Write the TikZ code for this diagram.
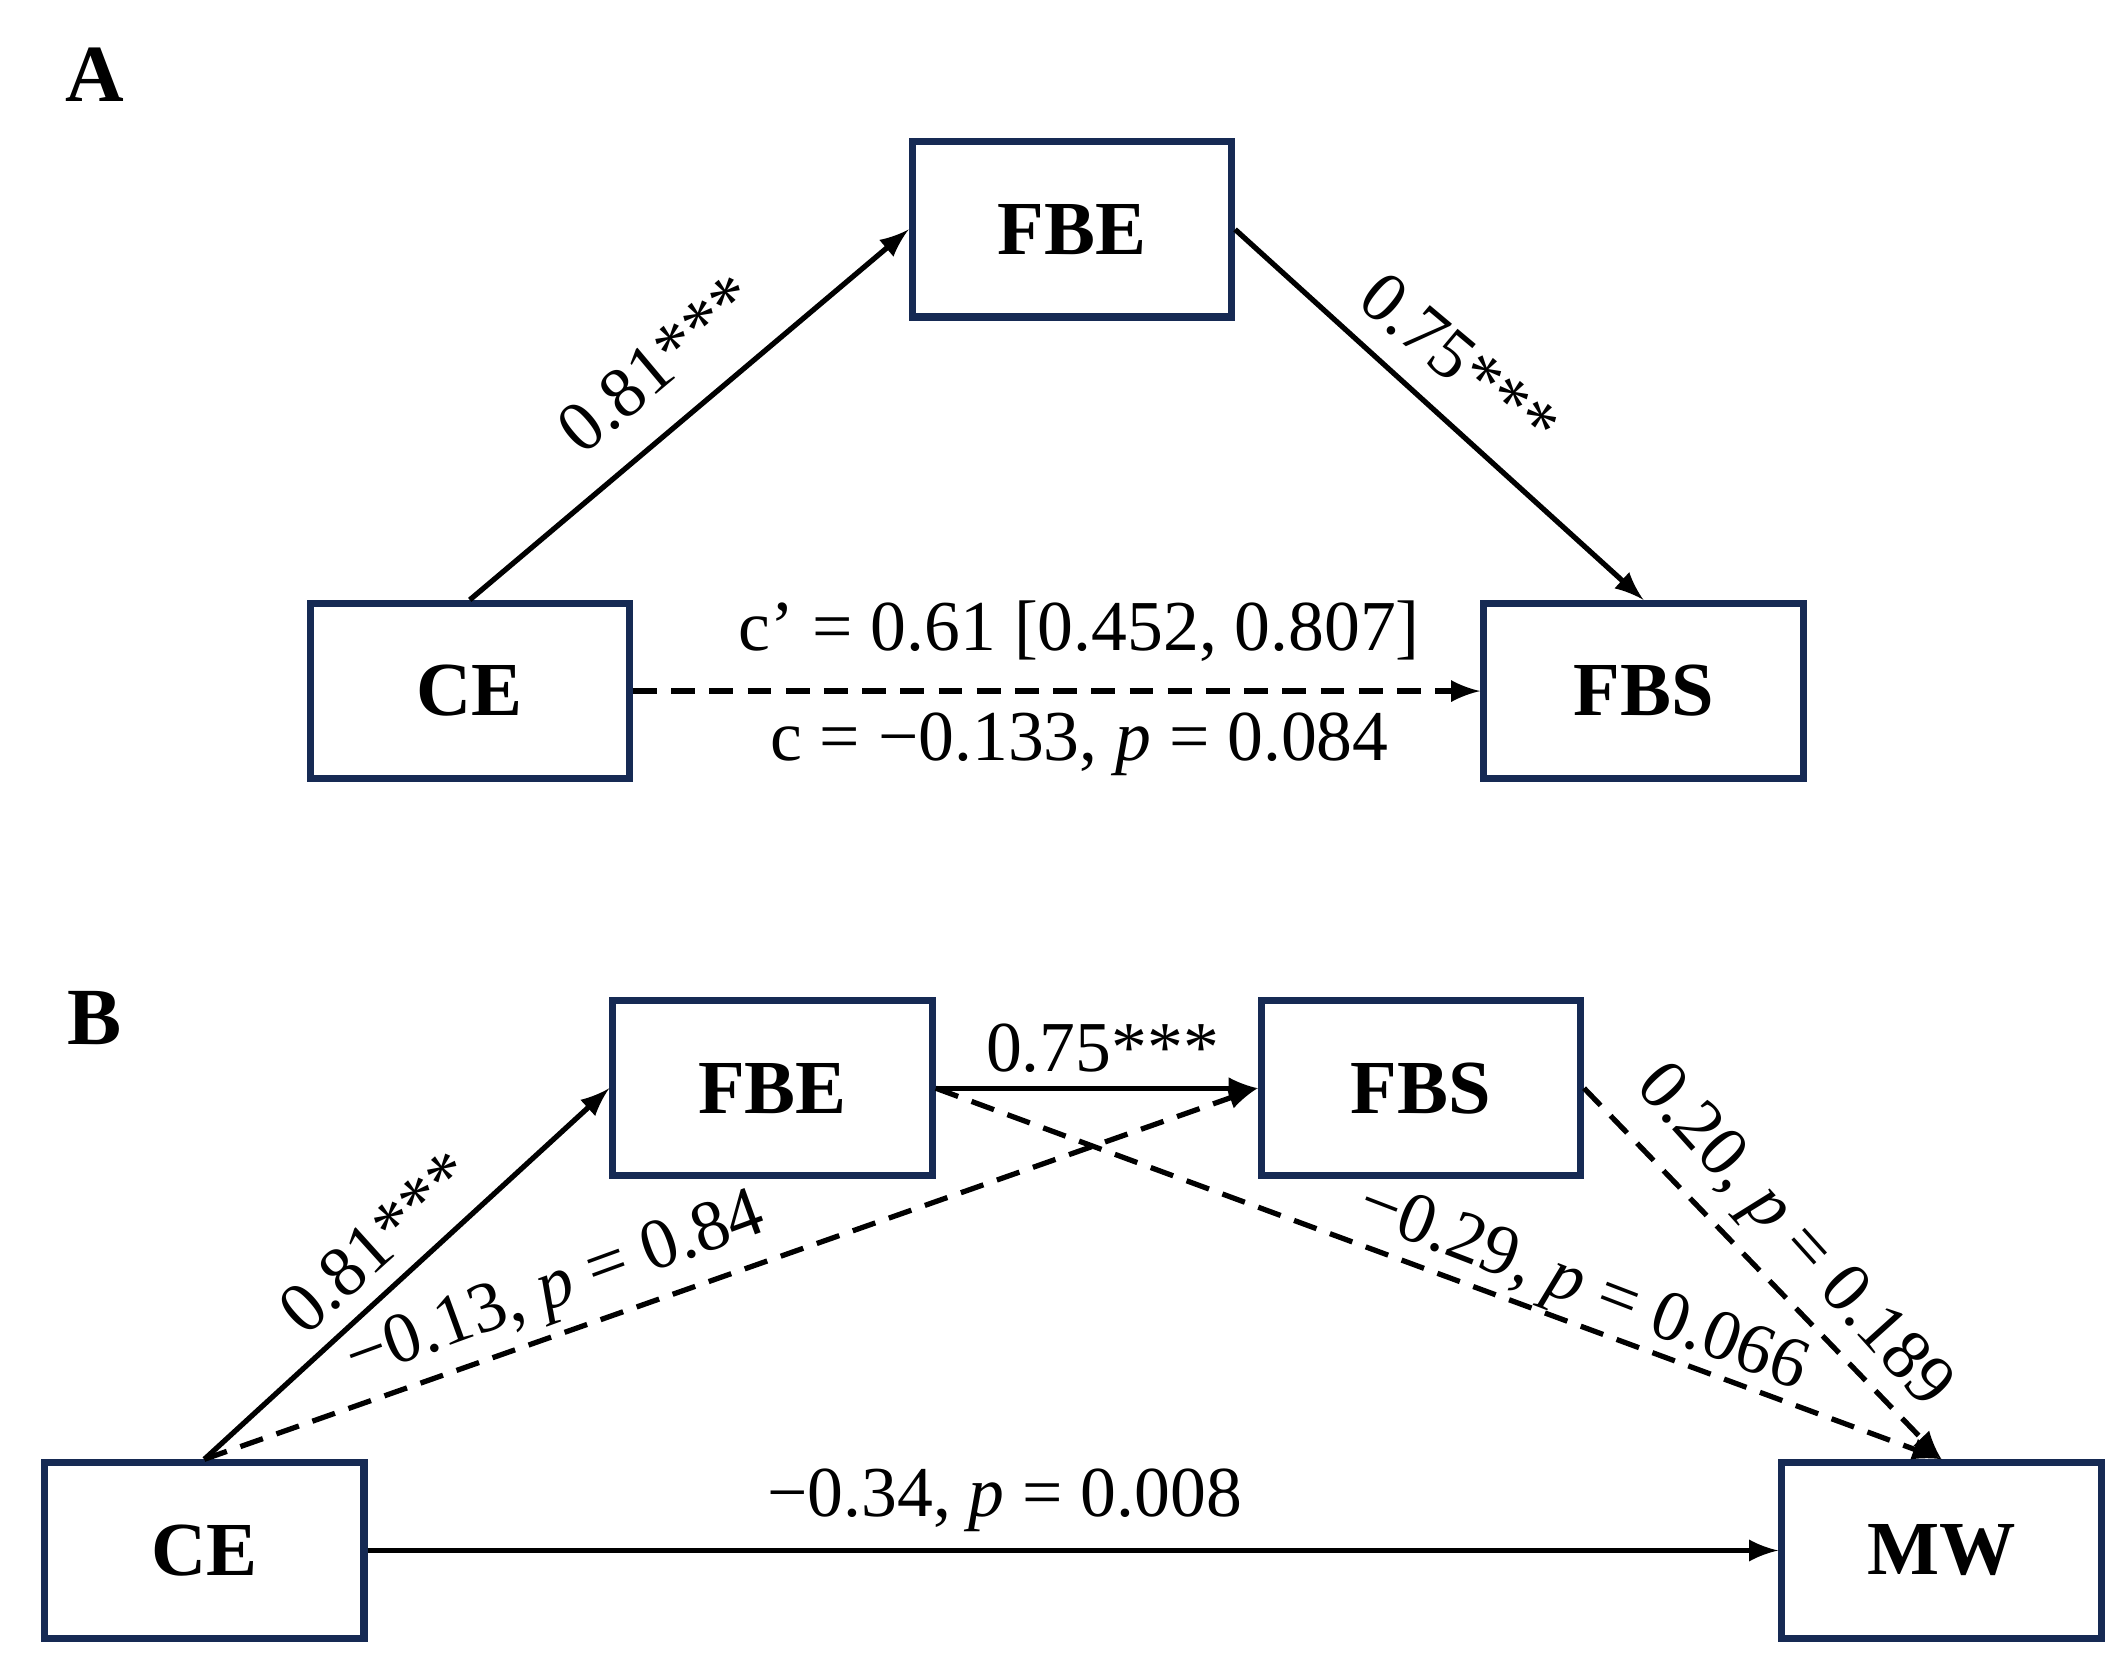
\documentclass[tikz,border=0pt]{standalone}
\usepackage{fontspec}
\setmainfont{Liberation Serif}
\begin{document}
\begin{tikzpicture}[x=0.01cm,y=-0.01cm,
 box/.style={draw=navy,line width=1.5pt,minimum width=2.35cm,minimum height=1.29cm,font=\fontsize{16}{19}\selectfont\bfseries,inner sep=0},
 lab/.style={font=\fontsize{15}{18}\selectfont,inner sep=1pt},
 arr/.style={-latex,line width=1.1pt},
 darr/.style={arr,dash pattern=on 5pt off 3pt}]
\definecolor{navy}{RGB}{22,42,84}
\useasboundingbox (0,0) rectangle (1560,1230);
\node[font=\fontsize{17}{20}\selectfont\bfseries] (lA) at (70,55) {A};
\node[font=\fontsize{17}{20}\selectfont\bfseries] (lB) at (70,750) {B};
% A
\node[box] (afbe) at (789.5,169) {FBE};
\node[box] (ace) at (346,509) {CE};
\node[box] (afbs) at (1210.5,509) {FBS};
\draw[arr] (ace.north) -- (afbe.west);
\draw[arr] (afbe.east) -- (afbs.north);
\draw[darr] (ace.east) -- (afbs.west);
\node[lab,rotate=40] (l1) at (484,268) {0.81***};
\node[lab,rotate=-40] (l2) at (1075,266) {0.75***};
\node[lab] (l3) at (795,465) {c’ = 0.61 [0.452, 0.807]};
\node[lab] (l4) at (795,548) {c = −0.133, \textit{p} = 0.084};
% B
\node[box] (bfbe) at (569,801.5) {FBE};
\node[box] (bfbs) at (1046.5,801.5) {FBS};
\node[box] (bce) at (150.5,1142) {CE};
\node[box] (bmw) at (1430,1142) {MW};
\draw[arr] (bce.north) -- (bfbe.west);
\draw[darr] (bce.north) -- (bfbs.west);
\draw[arr] (bfbe.east) -- (bfbs.west);
\draw[darr] (bfbe.east) -- (bmw.north);
\draw[darr] (bfbs.east) -- (bmw.north);
\draw[arr] (bce.east) -- (bmw.west);
\node[lab] (m1) at (812,772) {0.75***};
\node[lab,rotate=42] (m2) at (277,915) {0.81***};
\node[lab,rotate=20] (m3) at (410,950) {−0.13, \textit{p} = 0.84};
\node[lab,rotate=-21] (m4) at (1165,950) {−0.29, \textit{p} = 0.066};
\node[lab,rotate=-48] (m5) at (1320,912) {0.20, \textit{p} = 0.189};
\node[lab] (m6) at (740,1105) {−0.34, \textit{p} = 0.008};
\end{tikzpicture}
\end{document}
